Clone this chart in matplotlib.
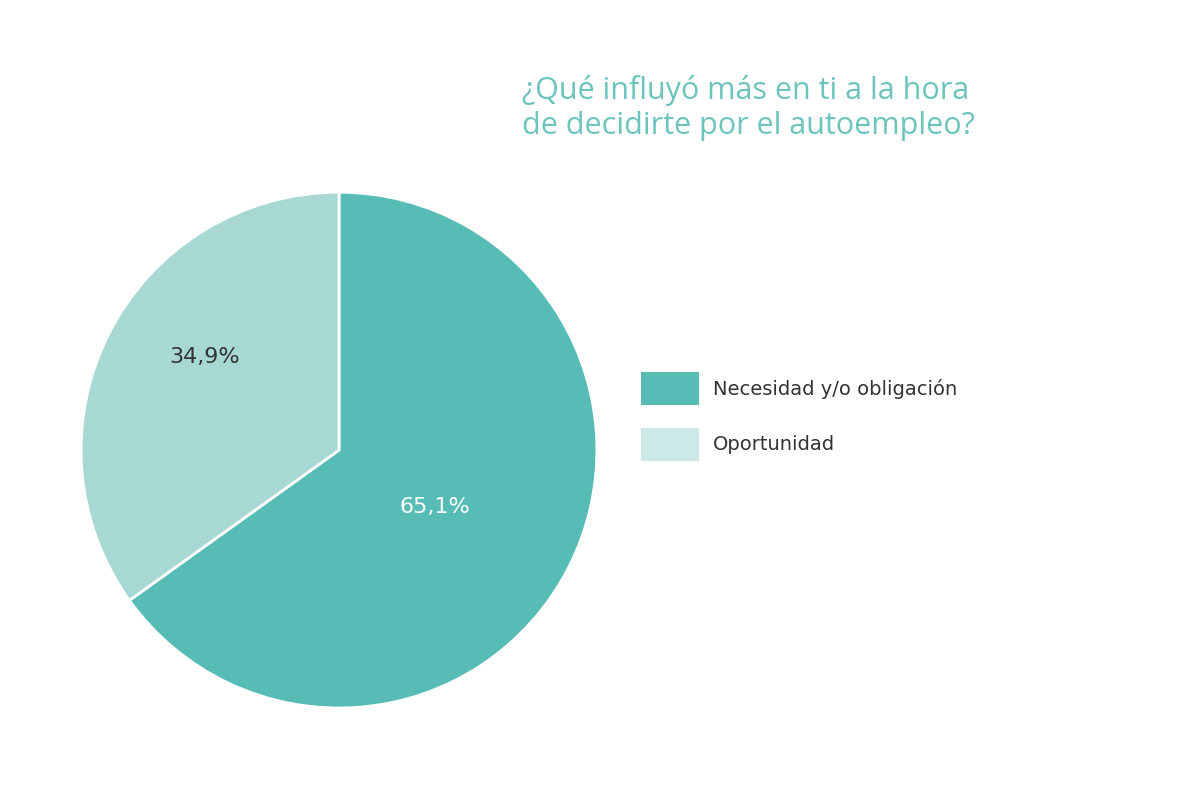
import matplotlib
matplotlib.use("Agg")
import matplotlib.pyplot as plt
from matplotlib.patches import Rectangle

categories = ["Necesidad y/o obligación", "Oportunidad"]
values = [65.1, 34.9]
labels = ["65,1%", "34,9%"]
colors = ["#57bcb6", "#a8d8d4"]
legend_colors = ["#57bcb6", "#cde9e7"]

fig = plt.figure(figsize=(12, 8.11), dpi=100)
ax = fig.add_axes([0.0675, 0.127, 0.43, 0.636])
ax.pie(values, colors=colors, startangle=90, counterclock=False,
       wedgeprops=dict(edgecolor="white", linewidth=2))
ax.set_xlim(-1, 1); ax.set_ylim(-1, 1); ax.set_aspect("equal")
ax.text(0.37, -0.22, labels[0], color="white", fontsize=16, ha="center", va="center")
ax.text(-0.52, 0.36, labels[1], color="#333333", fontsize=16, ha="center", va="center")

fig.text(522/1200, 1-108/811, "¿Qué influyó más en ti a la hora\nde decidirte por el autoempleo?",
         color="#6cc4bd", fontsize=22, ha="left", va="center", linespacing=1.25,
         family="Open Sans")

for i, (c, lc) in enumerate(zip(categories, legend_colors)):
    y0 = 1 - (405 + i*56)/811
    fig.patches.append(Rectangle((641/1200, y0), 58/1200, 33/811, transform=fig.transFigure,
                                 facecolor=lc, edgecolor="none"))
    fig.text(713/1200, y0 + 16/811, c, fontsize=14, color="#333333", va="center", ha="left")

fig.savefig("out.png", dpi=100, facecolor="white")
